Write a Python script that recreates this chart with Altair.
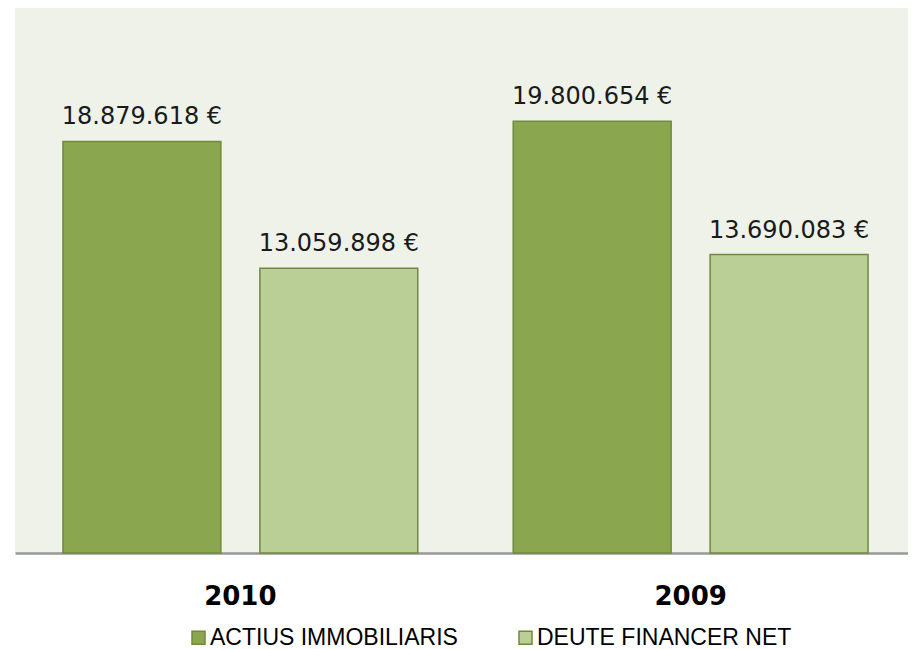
import altair as alt
import pandas as pd

years = ["2010", "2009"]
series = ["ACTIUS IMMOBILIARIS", "DEUTE FINANCER NET"]
actius = [18879618, 19800654]
deute = [13059898, 13690083]

rows = []
for i, y in enumerate(years):
    for s, vals in zip(series, [actius, deute]):
        v = vals[i]
        rows.append({"year": y, "series": s, "value": v,
                     "label": f"{v:,}".replace(",", ".") + " €"})
df = pd.DataFrame(rows)

W, H = 893, 545

xenc = alt.X("year:N", sort=years,
             scale=alt.Scale(paddingInner=0.212, paddingOuter=0.1065, range=[0, 901]),
             axis=alt.Axis(title=None, labelAngle=0, labelFont="DejaVu Sans",
                           labelFontWeight="bold", labelFontSize=26, labelColor="#000000",
                           domainColor="#999999", domainWidth=2.5, ticks=False, tickSize=0,
                           labelPadding=51, labelBaseline="alphabetic"))
xoff = alt.XOffset("series:N", sort=series, scale=alt.Scale(paddingInner=0.198, paddingOuter=0))
yenc = alt.Y("value:Q", scale=alt.Scale(domain=[0, 25000000], nice=False), axis=None)

bars = alt.Chart(df).mark_bar(stroke="#71893F", strokeWidth=1.5).encode(
    x=xenc, xOffset=xoff, y=yenc,
    color=alt.Color("series:N", sort=series,
                    scale=alt.Scale(domain=series, range=["#8AA64F", "#B9CF96"]),
                    legend=alt.Legend(title=None, orient="none", legendX=172, legendY=618,
                                      direction="horizontal", columns=2, columnPadding=56,
                                      symbolType="square", symbolSize=169,
                                      symbolStrokeColor="#71893F", symbolStrokeWidth=1.5,
                                      labelFont="Liberation Sans", labelFontSize=23,
                                      labelColor="#000000", labelOffset=0, padding=0,
                                      labelLimit=400))
)

text = alt.Chart(df).mark_text(dy=-17, baseline="alphabetic", fontSize=24,
                               font="DejaVu Sans", color="#1a1a1a").encode(
    x=xenc, xOffset=xoff, y=yenc, text="label:N")

chart = (bars + text).properties(
    width=W, height=H,
    autosize=alt.AutoSizeParams(type="none"),
    padding={"left": 7, "top": 0, "right": 0, "bottom": 101},
).configure_view(fill="#EFF2E9", strokeWidth=0)

chart.save("out.html", embed_options={"renderer": "svg", "actions": False})
